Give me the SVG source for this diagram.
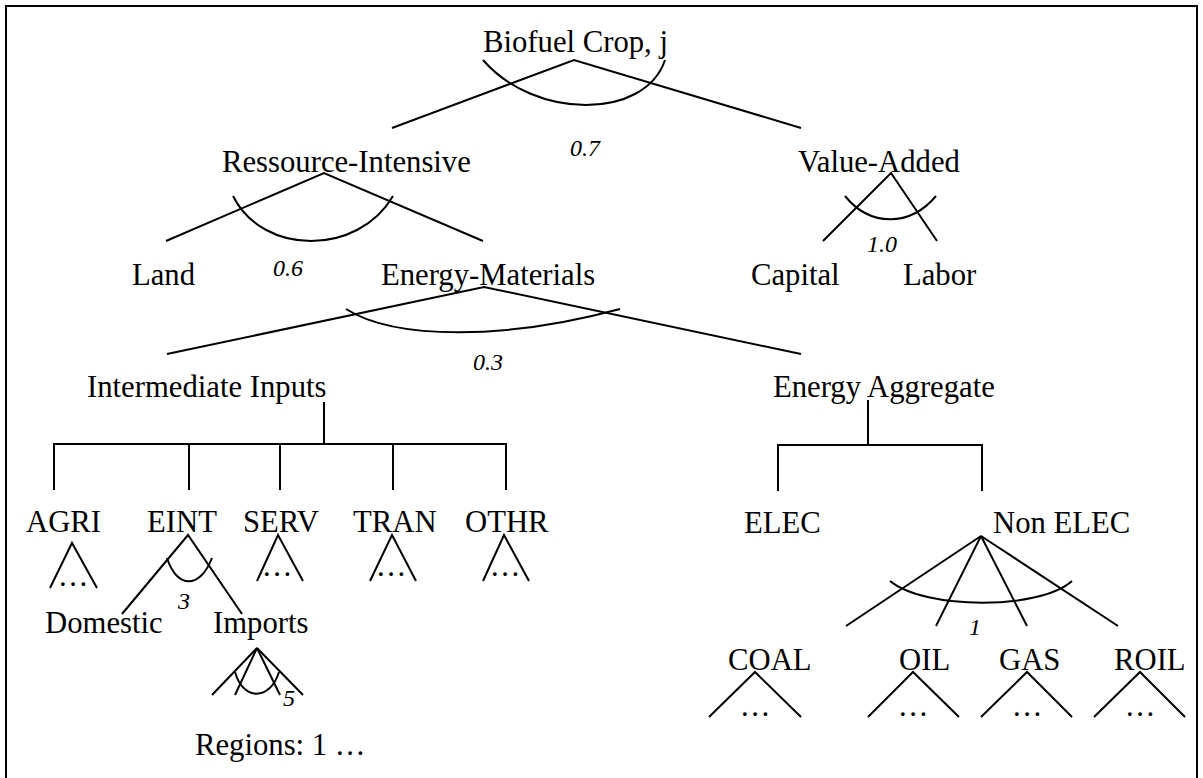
<svg xmlns="http://www.w3.org/2000/svg" width="1203" height="778" viewBox="0 0 1203 778">
<style>
.t{font-family:"Liberation Serif","Times New Roman",serif;font-size:30.7px;fill:#000}
.e{font-family:"Liberation Serif","Times New Roman",serif;font-size:24px;font-style:italic;fill:#000}
.d{font-family:"Liberation Serif","Times New Roman",serif;font-size:30.7px;fill:#000;text-anchor:middle}
.c line,.c path,.c polyline{stroke:#000;stroke-width:2;fill:none}
</style>
<rect width="1203" height="778" fill="#fff"/>
<path d="M6,790 V6 H1197 V790" stroke="#000" stroke-width="2" fill="none"/>
<g id="connectors" class="c">
<polyline points="392,128 574,60 801,128"/>
<path d="M483,60 C535,120 645,120 665,60"/>
<polyline points="166,241 324,173 483,241"/>
<path d="M233,196 C263,256 358,256 393,196"/>
<polyline points="823,241 891,173 937,241"/>
<path d="M845,196 C870,227 910,227 936,196"/>
<polyline points="167,354 484,287 801,354"/>
<path d="M346,309 C395,340 505,340 620,309"/>
<line x1="324" y1="402" x2="324" y2="444"/>
<polyline points="54,490 54,444 506,444 506,490"/>
<line x1="189" y1="444" x2="189" y2="490"/>
<line x1="280" y1="444" x2="280" y2="490"/>
<line x1="393" y1="444" x2="393" y2="490"/>
<line x1="868" y1="400" x2="868" y2="445"/>
<polyline points="778,491 778,445 982,445 982,491"/>
<polyline points="50,588 72,543 97,588"/>
<polyline points="122,614 188,535 242,614"/>
<path d="M167,558 C177,589 200,589 212,558"/>
<polyline points="257,581 278,535 303,581"/>
<polyline points="370,581 392,535 416,581"/>
<polyline points="483,581 504,535 529,581"/>
<line x1="257" y1="648" x2="212" y2="695"/>
<line x1="257" y1="648" x2="235" y2="695"/>
<line x1="257" y1="648" x2="280" y2="695"/>
<line x1="257" y1="648" x2="303" y2="695"/>
<path d="M235,672 C243,701 270,701 279,672"/>
<line x1="981" y1="536" x2="846" y2="626"/>
<line x1="981" y1="536" x2="936" y2="626"/>
<line x1="981" y1="536" x2="1027" y2="626"/>
<line x1="981" y1="536" x2="1118" y2="626"/>
<path d="M890,581 C925,610 1040,610 1072,581"/>
<polyline points="709,717 755,672 801,717"/>
<polyline points="868,717 913,672 959,717"/>
<polyline points="981,717 1027,672 1072,717"/>
<polyline points="1094,717 1140,672 1185,717"/>
</g>
<g id="n-biofuel"><text class="t" x="483" y="52">Biofuel Crop, j</text></g>
<g id="n-ressource"><text class="t" x="222" y="172">Ressource-Intensive</text></g>
<g id="n-valueadded"><text class="t" x="798" y="172">Value-Added</text></g>
<g id="n-land"><text class="t" x="132" y="285">Land</text></g>
<g id="n-energymat"><text class="t" x="381" y="285">Energy-Materials</text></g>
<g id="n-capital"><text class="t" x="751" y="285">Capital</text></g>
<g id="n-labor"><text class="t" x="903" y="285">Labor</text></g>
<g id="n-intermediate"><text class="t" x="87" y="397">Intermediate Inputs</text></g>
<g id="n-energyagg"><text class="t" x="773" y="397">Energy Aggregate</text></g>
<g id="n-agri"><text class="t" x="26" y="532">AGRI</text><text class="d" x="73" y="586">…</text></g>
<g id="n-eint"><text class="t" x="147" y="532">EINT</text></g>
<g id="n-serv"><text class="t" x="243" y="532">SERV</text><text class="d" x="277" y="576">…</text></g>
<g id="n-tran"><text class="t" x="353" y="532">TRAN</text><text class="d" x="391" y="576">…</text></g>
<g id="n-othr"><text class="t" x="465" y="532">OTHR</text><text class="d" x="505" y="576">…</text></g>
<g id="n-elec"><text class="t" x="744" y="533">ELEC</text></g>
<g id="n-nonelec"><text class="t" x="993" y="533">Non ELEC</text></g>
<g id="n-domestic"><text class="t" x="45" y="633">Domestic</text></g>
<g id="n-imports"><text class="t" x="213" y="633">Imports</text></g>
<g id="n-regions"><text class="t" x="195" y="755">Regions: 1 …</text></g>
<g id="n-coal"><text class="t" x="728" y="670">COAL</text><text class="d" x="755" y="716">…</text></g>
<g id="n-oil"><text class="t" x="899" y="670">OIL</text><text class="d" x="913" y="716">…</text></g>
<g id="n-gas"><text class="t" x="999" y="670">GAS</text><text class="d" x="1027" y="716">…</text></g>
<g id="n-roil"><text class="t" x="1114" y="670">ROIL</text><text class="d" x="1140" y="716">…</text></g>
<g id="labels">
<text class="e" x="570" y="156">0.7</text>
<text class="e" x="273" y="276">0.6</text>
<text class="e" x="867" y="252">1.0</text>
<text class="e" x="473" y="370">0.3</text>
<text class="e" x="178" y="609">3</text>
<text class="e" x="283" y="706">5</text>
<text class="e" x="969" y="635">1</text>
</g>
</svg>
